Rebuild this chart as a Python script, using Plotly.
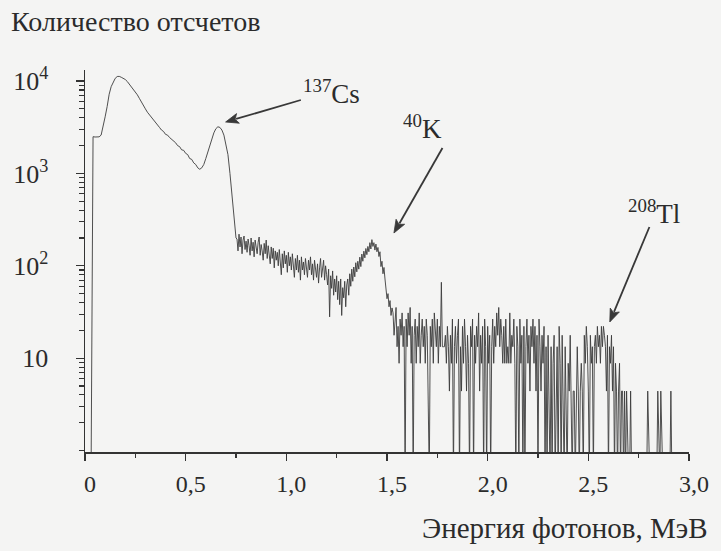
import numpy as np
import plotly.graph_objects as go

# ---- data ----
# 0.03 .. 0.75 MeV, 0.01 MeV per point (smooth part, backscatter + Cs-137 peak)
low_start, low_step = 0.03, 0.01
counts_low = [
    0, 2500, 2480, 2470, 2490, 2600, 3200, 4100, 5300, 7200,
    8700, 9900, 10700, 11200, 11250, 11000, 10700, 10400, 9900, 9300,
    8700, 8200, 7700, 7100, 6500, 5900, 5400, 5000, 4600, 4300,
    4000, 3750, 3550, 3350, 3150, 2950, 2850, 2650, 2600, 2450,
    2350, 2200, 2150, 2000, 1950, 1800, 1780, 1650, 1600, 1450,
    1420, 1300, 1250, 1150, 1110, 1150, 1250, 1450, 1720, 2050,
    2400, 2750, 3050, 3200, 3150, 2950, 2600, 2100, 1600, 1000,
    620, 360, 200,
]
# 0.755 .. 1.525 MeV, 0.005 MeV per point (Compton continuum + K-40 peak)
mid_start, mid_step = 0.755, 0.005
counts_mid = [
    195, 145, 220, 160, 205, 135, 190, 210, 150, 185,
    140, 195, 165, 130, 200, 145, 180, 125, 190, 155,
    135, 180, 205, 130, 170, 145, 115, 175, 135, 190,
    120, 165, 130, 105, 160, 120, 155, 95, 145, 115,
    140, 100, 150, 110, 80, 135, 95, 145, 105, 130,
    85, 140, 100, 125, 90, 135, 95, 75, 120, 90,
    130, 85, 115, 70, 125, 90, 110, 80, 120, 95,
    75, 115, 90, 125, 80, 105, 70, 115, 85, 75,
    105, 65, 95, 120, 75, 95, 115, 70, 100, 80,
    62, 92, 28, 78, 57, 88, 48, 72, 52, 78,
    43, 68, 38, 72, 29, 58, 45, 68, 36, 62,
    72, 48, 82, 60, 92, 68, 97, 76, 108, 86,
    112, 92, 124, 98, 134, 112, 144, 122, 154, 132,
    162, 142, 178, 152, 192, 162, 178, 148, 172, 142,
    158, 126, 142, 98, 112, 82, 96, 72, 58, 44,
    50, 36, 42, 29, 35,
]
# 1.53 .. 2.915 MeV, 0.005 MeV per point (low-count region, Tl-208)
high_start, high_step = 1.53, 0.005
counts_high = [
    30.9, 17.7, 26.5, 35.4, 13.3, 22.1, 8.8, 26.5, 17.7, 30.9,
    13.3, 22.1, 0, 26.5, 13.3, 30.9, 17.7, 35.4, 8.8, 22.1,
    0, 17.7, 26.5, 8.8, 22.1, 13.3, 30.9, 8.8, 17.7, 26.5,
    13.3, 22.1, 8.8, 26.5, 17.7, 4.4, 0, 22.1, 13.3, 26.5,
    8.8, 30.9, 17.7, 13.3, 26.5, 8.8, 22.1, 13.3, 66.3, 13.3,
    13.3, 13.3, 17.7, 8.8, 22.1, 13.3, 4.4, 17.7, 8.8, 26.5,
    0, 13.3, 22.1, 8.8, 17.7, 26.5, 0, 13.3, 4.4, 22.1,
    8.8, 26.5, 13.3, 4.4, 17.7, 8.8, 0, 22.1, 13.3, 26.5,
    0, 17.7, 8.8, 22.1, 13.3, 30.9, 4.4, 17.7, 8.8, 22.1,
    0, 26.5, 13.3, 0, 22.1, 8.8, 17.7, 0, 13.3, 26.5,
    8.8, 22.1, 13.3, 30.9, 17.7, 35.4, 13.3, 26.5, 17.7, 8.8,
    22.1, 8.8, 26.5, 8.8, 13.3, 8.8, 30.9, 8.8, 17.7, 13.3,
    26.5, 8.8, 0, 22.1, 13.3, 0, 26.5, 8.8, 17.7, 0,
    22.1, 0, 13.3, 26.5, 8.8, 17.7, 4.4, 22.1, 13.3, 26.5,
    8.8, 22.1, 4.4, 17.7, 0, 26.5, 13.3, 4.4, 17.7, 8.8,
    22.1, 0, 13.3, 0, 17.7, 4.4, 0, 13.3, 0, 8.8,
    17.7, 0, 4.4, 13.3, 0, 22.1, 8.8, 0, 17.7, 4.4,
    0, 13.3, 4.4, 0, 8.8, 4.4, 17.7, 4.4, 0, 4.4,
    4.4, 0, 4.4, 13.3, 4.4, 0, 4.4, 8.8, 4.4, 0,
    17.7, 8.8, 22.1, 13.3, 4.4, 0, 17.7, 8.8, 13.3, 0,
    13.3, 17.7, 8.8, 22.1, 13.3, 17.7, 8.8, 22.1, 13.3, 22.1,
    17.7, 13.3, 4.4, 17.7, 0, 13.3, 8.8, 17.7, 4.4, 13.3,
    0, 8.8, 4.4, 0, 4.4, 8.8, 0, 4.4, 4.4, 0,
    4.4, 0, 4.4, 0, 0, 0, 4.4, 0, 0, 0,
    0, 0, 0, 0, 0, 0, 0, 0, 0, 0,
    0, 0, 0, 4.4, 0, 0, 0, 0, 0, 0,
    0, 0, 0, 4.4, 0, 0, 4.4, 0, 0, 0,
    0, 0, 0, 0, 0, 0, 4.4, 0,
]

x_tick_vals = [0, 0.5, 1.0, 1.5, 2.0, 2.5, 3.0]
x_tick_text = ["0", "0,5", "1,0", "1,5", "2,0", "2,5", "3,0"]
x_minor_vals = [0.25, 0.75, 1.25, 1.75, 2.25, 2.75]
y_tick_vals = [10, 100, 1000, 10000]
y_tick_text = ["10", "10<sup>2</sup>", "10<sup>3</sup>", "10<sup>4</sup>"]
y_minor_vals = [m * 10 ** k for k in range(0, 4) for m in range(2, 10)] + [1]

peak_labels = ["<sup>137</sup>Cs", "<sup>40</sup>K", "<sup>208</sup>Tl"]

# ---- figure ----
def channels(start, step, vals):
    return np.round(start + step * np.arange(len(vals)), 3)

energy = np.concatenate([channels(low_start, low_step, counts_low),
                         channels(mid_start, mid_step, counts_mid),
                         channels(high_start, high_step, counts_high)])
counts = np.array(counts_low + counts_mid + counts_high, dtype=float)
# zero-count channels are drawn down to the bottom of the log axis
y_plot = np.where(counts > 0, counts, 0.5)

INK = "#333333"
FONT = "Liberation Serif"
TXT = "#2b2b2b"
BG = "#f4f4f3"

fig = go.Figure()
fig.add_trace(go.Scatter(
    x=energy, y=y_plot, mode="lines",
    line=dict(color="#3c3c3c", width=0.9),
    hoverinfo="skip", showlegend=False,
))

W, H = 721, 551
ml, mr, mt, mb = 85, 26, 70, 99
pw, ph = W - ml - mr, H - mt - mb

def px(xp):
    return (xp - ml) / pw

def py(yp):
    return (H - mb - yp) / ph

fig.update_layout(
    width=W, height=H,
    margin=dict(l=ml, r=mr, t=mt, b=mb, pad=0),
    paper_bgcolor=BG, plot_bgcolor=BG,
    font=dict(family=FONT, color=TXT, size=24),
    xaxis=dict(
        range=[0, 3.0], tickmode="array", tickvals=x_tick_vals, ticktext=x_tick_text,
        ticks="outside", ticklen=7, tickwidth=1.3, tickcolor=INK,
        showline=True, linecolor=INK, linewidth=1.5,
        showgrid=False, zeroline=False,
        tickfont=dict(family=FONT, size=24, color=TXT),
        ticklabelstandoff=3, ticklabelshift=5,
        minor=dict(tickmode="array", tickvals=x_minor_vals, ticks="outside",
                   ticklen=4, tickwidth=1.2, tickcolor=INK, showgrid=False),
    ),
    yaxis=dict(
        type="log", range=[-0.016, 4.12], tickmode="array",
        tickvals=y_tick_vals, ticktext=y_tick_text,
        ticks="outside", ticklen=8, tickwidth=1.3, tickcolor=INK,
        showline=True, linecolor=INK, linewidth=1.5,
        showgrid=False, zeroline=False,
        tickfont=dict(family=FONT, size=26, color=TXT),
        ticklabelstandoff=22,
        minor=dict(tickmode="array", tickvals=y_minor_vals, ticks="outside",
                   ticklen=5, tickwidth=1.1, tickcolor=INK, showgrid=False),
    ),
)

# axis titles
fig.add_annotation(text="Количество отсчетов", xref="paper", yref="paper",
                   x=px(8), y=py(21), xanchor="left", yanchor="middle",
                   showarrow=False, font=dict(family=FONT, size=28, color=TXT))
fig.add_annotation(text="Энергия фотонов, МэВ", xref="paper", yref="paper",
                   x=px(716), y=py(528), xanchor="right", yanchor="middle",
                   showarrow=False, font=dict(family=FONT, size=29, color=TXT))

# arrows drawn as shapes: (tip pixel, tail pixel)
ARROW = "#383838"
arrows = [((227, 122), (303, 100)), ((397, 233), (446, 148)), ((615, 322), (655, 227))]
head_len, head_half = 13.0, 5.0
for (tx, ty), (sx, sy) in arrows:
    d = np.array([tx - sx, ty - sy], dtype=float)
    u = d / np.linalg.norm(d)
    n = np.array([-u[1], u[0]])
    base = np.array([tx, ty]) - u * head_len
    fig.add_shape(type="line", xref="paper", yref="paper",
                  x0=px(sx), y0=py(sy), x1=px(base[0] + u[0] * 2), y1=py(base[1] + u[1] * 2),
                  line=dict(color=ARROW, width=1.8))
    p1 = base + n * head_half
    p2 = base - n * head_half
    path = (f"M {px(tx)},{py(ty)} L {px(p1[0])},{py(p1[1])} "
            f"L {px(base[0] + u[0] * 3)},{py(base[1] + u[1] * 3)} "
            f"L {px(p2[0])},{py(p2[1])} Z")
    fig.add_shape(type="path", xref="paper", yref="paper", path=path,
                  fillcolor=ARROW, line=dict(color=ARROW, width=0.8))

# peak labels: (left x, centre y)
label_pos = [(303, 92), (404, 127), (631, 212)]
for txt, (lx, ly) in zip(peak_labels, label_pos):
    fig.add_annotation(text=txt, xref="paper", yref="paper", x=px(lx), y=py(ly),
                       xanchor="left", yanchor="middle", showarrow=False,
                       font=dict(family=FONT, size=27, color=TXT))

fig.write_html(
    "out.html",
    config={"displayModeBar": False, "staticPlot": True},
    post_script=f"document.body.style.margin='0';document.body.style.background='{BG}';",
)
